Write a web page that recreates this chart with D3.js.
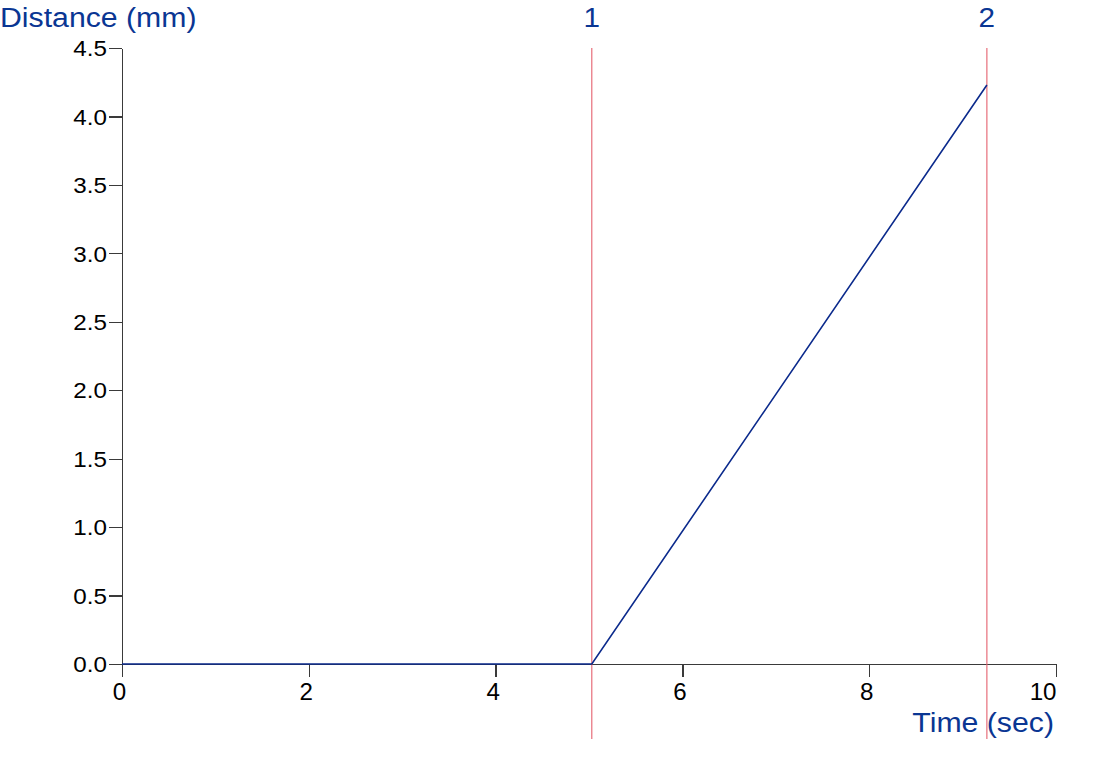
<!DOCTYPE html>
<html>
<head>
<meta charset="utf-8">
<style>
  body { margin: 0; background: #fff; }
  svg { font-family: Arial, "Liberation Sans", sans-serif; }
  .axis path, .axis line { stroke: #3a3a3a; stroke-width: 1.3; shape-rendering: crispEdges; }
  .axis text { fill: #000; }
  .title { fill: #0a3693; font-size: 27px; }
</style>
<script src="https://cdn.jsdelivr.net/npm/d3@7"></script>
</head>
<body>
<svg id="chart" width="1110" height="764"></svg>
<script>
// distance vs time trace
var times = [0, 5.03, 9.26];
var distances = [0, 0, 4.23];
// event markers
var markerTimes = [5.03, 9.26];
var markerLabels = ["1", "2"];
var xTicks = [0, 2, 4, 6, 8, 10];
var yTicks = [0, 0.5, 1, 1.5, 2, 2.5, 3, 3.5, 4, 4.5];

var svg = d3.select("#chart");
var x = d3.scaleLinear().domain([0, 10]).range([122, 1056]);
var y = d3.scaleLinear().domain([0, 4.5]).range([664, 48]);

// the reference text is a bit wider than the local font, stretch it
function widen(sel, k) {
  sel.each(function() {
    var w = this.getComputedTextLength();
    d3.select(this).attr("textLength", w * k).attr("lengthAdjust", "spacingAndGlyphs");
  });
}

// y axis
var yAxis = svg.append("g")
    .attr("class", "axis")
    .attr("transform", "translate(122,0)")
    .call(d3.axisLeft(y).tickValues(yTicks).tickFormat(d3.format(".1f"))
      .tickSize(13).tickSizeOuter(0).tickPadding(2));
yAxis.selectAll("text").style("font-size", "22px").attr("dy", "0.35em");

// x axis
var xAxis = svg.append("g")
    .attr("class", "axis")
    .attr("transform", "translate(0,664)")
    .call(d3.axisBottom(x).tickValues(xTicks).tickFormat(d3.format("d"))
      .tickSize(13).tickSizeOuter(0).tickPadding(3));
xAxis.selectAll("text").style("font-size", "23px").attr("dy", "0.87em")
    .attr("text-anchor", function(d) { return d === 10 ? "end" : "middle"; })
    .attr("x", function(d) { return d === 10 ? 0 : -3; });

// markers
svg.selectAll(".marker").data(markerTimes).enter().append("line")
    .attr("class", "marker")
    .attr("x1", function(d) { return x(d); })
    .attr("x2", function(d) { return x(d); })
    .attr("y1", 48).attr("y2", 739)
    .attr("stroke", "#e5606e").attr("stroke-width", 1.1);

svg.selectAll(".mlabel").data(markerTimes).enter().append("text")
    .attr("class", "title mlabel")
    .attr("x", function(d) { return x(d); })
    .attr("y", 27)
    .attr("text-anchor", "middle")
    .text(function(d, i) { return markerLabels[i]; });

// trace
var line = d3.line()
    .x(function(d, i) { return x(times[i]); })
    .y(function(d) { return y(d); });
svg.append("path")
    .datum(distances)
    .attr("d", line)
    .attr("fill", "none")
    .attr("stroke", "#0b2a8c")
    .attr("stroke-width", 1.6);

// titles
svg.append("text").attr("class", "title ttl")
    .attr("x", 0).attr("y", 27)
    .text("Distance (mm)");
svg.append("text").attr("class", "title ttl")
    .attr("x", 1054).attr("y", 732)
    .attr("text-anchor", "end")
    .text("Time (sec)");

widen(yAxis.selectAll("text"), 1.1);
widen(xAxis.selectAll("text"), 1.05);
widen(svg.selectAll(".ttl"), 1.12);
widen(svg.selectAll(".mlabel"), 1.1);
</script>
</body>
</html>
